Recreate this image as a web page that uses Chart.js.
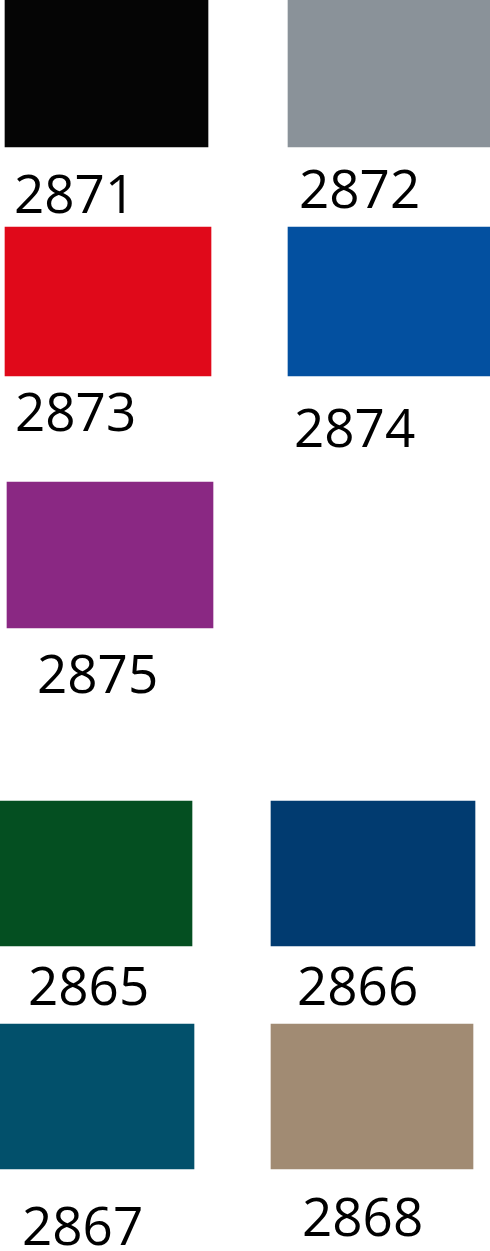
<!DOCTYPE html>
<html>
<head>
<meta charset="utf-8">
<script src="https://cdn.jsdelivr.net/npm/chart.js@4/dist/chart.umd.min.js"></script>
<style>
  html, body { margin: 0; padding: 0; background: #ffffff; }
  #wrap { width: 490px; height: 1251px; }
</style>
</head>
<body>
<div id="wrap"><canvas id="c" width="490" height="1251"></canvas></div>
<script>
// Colour codes (categories)
const codes = ["2871", "2872", "2873", "2874", "2875", "2865", "2866", "2867", "2868"];
// Swatch colours
const colors = ["#050505", "#8a9299", "#e0091a", "#0350a0", "#8a2883", "#044f21", "#013b70", "#02506b", "#a18b73"];
// Swatch extents in layout units
const swatchLeft   = [5,   288, 5,   288, 7,   0,   271, 0,   271];
const swatchRight  = [208, 490, 211, 490, 213, 192, 475, 194, 473];
const swatchTop    = [0,   0,   227, 227, 482, 801, 801, 1024, 1024];
const swatchBottom = [147, 147, 376, 376, 628, 946, 946, 1169, 1169];
// Label anchors (left edge of text, baseline)
const labelLeft     = [15,  300, 16,  295, 38,  29,  298, 23,   303];
const labelBaseline = [213, 208, 431, 447, 693, 1005, 1005, 1245, 1236];

const datasets = codes.map((code, i) => ({
  label: code,
  data: [{ y: (swatchTop[i] + swatchBottom[i]) / 2, x: [swatchLeft[i], swatchRight[i]] }],
  backgroundColor: colors[i],
  borderWidth: 0,
  barThickness: swatchBottom[i] - swatchTop[i],
  grouped: false
}));

const labelPlugin = {
  id: 'codeLabels',
  afterDatasetsDraw(chart) {
    const ctx = chart.ctx;
    const xs = chart.scales.x, ys = chart.scales.y;
    ctx.save();
    ctx.fillStyle = '#000000';
    ctx.font = '53px "Open Sans"';
    ctx.textAlign = 'left';
    ctx.textBaseline = 'alphabetic';
    codes.forEach((code, i) => {
      ctx.fillText(code, xs.getPixelForValue(labelLeft[i]) - 1, ys.getPixelForValue(labelBaseline[i]));
    });
    ctx.restore();
  }
};

new Chart(document.getElementById('c'), {
  type: 'bar',
  data: { datasets },
  options: {
    indexAxis: 'y',
    responsive: false,
    animation: false,
    layout: { padding: 0 },
    plugins: { legend: { display: false }, tooltip: { enabled: false } },
    scales: {
      x: { type: 'linear', min: 0, max: 490, offset: false, display: false },
      y: { type: 'linear', min: 0, max: 1251, reverse: true, offset: false, display: false }
    }
  },
  plugins: [labelPlugin]
});
</script>
</body>
</html>
